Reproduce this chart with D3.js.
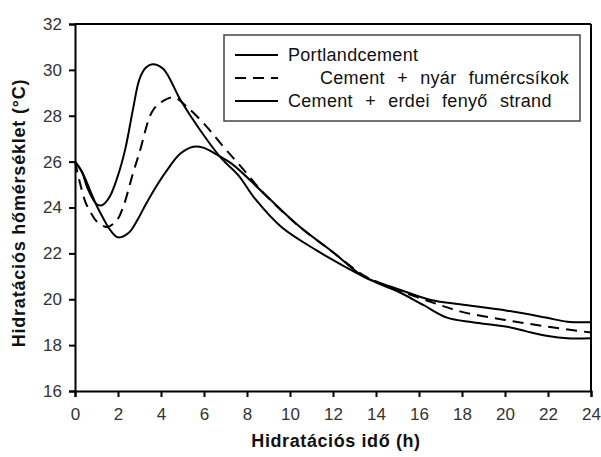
<!DOCTYPE html>
<html><head><meta charset="utf-8">
<script src="https://cdn.jsdelivr.net/npm/d3@7"></script>
<style>body{margin:0;background:#fff}</style>
</head><body>
<svg id="c" width="601" height="457"></svg>
<script>
const xTicks = [0,2,4,6,8,10,12,14,16,18,20,22,24];
const yTicks = [16,18,20,22,24,26,28,30,32];
const seriesNames = ["Portlandcement","Cement + nyár fumércsíkok","Cement + erdei fenyő strand"];

const portlandHours = [0,0.3,0.6,1.0,1.25,1.6,2.0,2.35,2.7,3.0,3.3,3.6,4.1,4.9,5.8,6.8,7.6,8.4,9.6,11.2,12.4,13.4,14.2,15.0,16.2,17.3,18.5,20.1,21.0,22.0,22.9,24];
const portlandTemp  = [26.0,25.6,24.8,24.15,24.1,24.45,25.4,26.6,28.3,29.6,30.1,30.25,30.05,28.7,27.4,26.15,25.4,24.35,23.15,22.15,21.5,21.0,20.65,20.35,19.75,19.2,19.0,18.8,18.6,18.4,18.3,18.3];

const nyarHours = [0,0.25,0.5,0.75,1.0,1.5,1.95,2.25,2.7,3.0,3.6,4.1,4.6,5.2,6.1,6.9,7.7,8.8,10.4,12.0,13.4,14.2,15.0,16.5,18.0,20.0,22.0,24];
const nyarTemp  = [26.0,25.0,24.2,23.75,23.4,23.15,23.45,24.05,25.5,26.4,28.2,28.65,28.8,28.4,27.55,26.65,25.8,24.6,23.2,22.05,21.05,20.7,20.4,19.9,19.45,19.1,18.8,18.55];

const fenyoHours = [0,0.35,0.7,1.0,1.3,1.65,2.0,2.5,2.9,3.3,3.8,4.3,4.9,5.5,6.0,6.6,7.3,8.8,10.4,12.0,13.4,14.2,15.0,16.5,17.9,20.1,21.9,22.9,24];
const fenyoTemp  = [26.0,25.5,24.75,24.1,23.55,23.0,22.7,22.9,23.45,24.15,24.95,25.65,26.35,26.65,26.6,26.3,25.9,24.6,23.2,22.05,21.0,20.7,20.45,19.98,19.78,19.5,19.2,19.02,19.0];

const svg = d3.select("#c");
const L=75, R=591, T=24, B=391;
const x = d3.scaleLinear().domain([0,24]).range([L,R]);
const y = d3.scaleLinear().domain([16,32]).range([B,T]);
const font = "'Liberation Sans', Arial, sans-serif";

svg.append("line").attr("x1",L).attr("x2",R).attr("y1",T).attr("y2",T).attr("stroke","#000").attr("stroke-width",2);
svg.append("line").attr("x1",R).attr("x2",R).attr("y1",T).attr("y2",B).attr("stroke","#000").attr("stroke-width",2);

const xAxis = svg.append("g").attr("transform",`translate(0,${B})`)
  .call(d3.axisBottom(x).tickValues(xTicks).tickSize(6).tickPadding(11).tickFormat(d3.format("d")));
const yAxis = svg.append("g").attr("transform",`translate(${L},0)`)
  .call(d3.axisLeft(y).tickValues(yTicks).tickSize(6).tickPadding(7).tickFormat(d3.format("d")));
[xAxis,yAxis].forEach(g=>{
  g.select(".domain").attr("stroke","#000").attr("stroke-width",2);
  g.selectAll(".tick line").attr("stroke","#000").attr("stroke-width",2);
  g.selectAll(".tick text").attr("font-family",font).attr("font-size",17).attr("fill","#333");
});

const line = d3.line().x(d=>x(d[0])).y(d=>y(d[1])).curve(d3.curveCatmullRom.alpha(0.5));
const series = [
  {h:portlandHours,t:portlandTemp,dash:null},
  {h:nyarHours,t:nyarTemp,dash:"11,7"},
  {h:fenyoHours,t:fenyoTemp,dash:null}
];
series.forEach(s=>{
  svg.append("path").datum(s.h.map((h,i)=>[h,s.t[i]]))
    .attr("d",line).attr("fill","none").attr("stroke","#000").attr("stroke-width",2)
    .attr("stroke-dasharray",s.dash);
});

const lg = svg.append("g");
lg.append("rect").attr("x",224).attr("y",35).attr("width",356).attr("height",86)
  .attr("fill","#fff").attr("stroke","#444").attr("stroke-width",1.5);
const rowsY=[55,78,101], textX=[288,320,288];
seriesNames.forEach((n,i)=>{
  lg.append("line").attr("x1",235).attr("x2",278).attr("y1",rowsY[i]).attr("y2",rowsY[i])
    .attr("stroke","#000").attr("stroke-width",2).attr("stroke-dasharray",series[i].dash);
  lg.append("text").attr("x",textX[i]).attr("y",rowsY[i]).attr("dy","0.35em")
    .attr("font-family",font).attr("font-size",18).attr("fill","#111")
    .attr("letter-spacing","0.3px").attr("word-spacing","7px").text(n);
});

svg.append("text").attr("x",336).attr("y",447).attr("text-anchor","middle")
  .attr("font-family",font).attr("font-weight","bold").attr("font-size",18).attr("fill","#111")
  .attr("letter-spacing","0.6px").text("Hidratációs idő (h)");
svg.append("text").attr("transform",`translate(25,213) rotate(-90)`).attr("text-anchor","middle")
  .attr("font-family",font).attr("font-weight","bold").attr("font-size",18).attr("fill","#111")
  .attr("letter-spacing","0.8px").text("Hidratációs hőmérséklet (°C)");
</script>
</body></html>
